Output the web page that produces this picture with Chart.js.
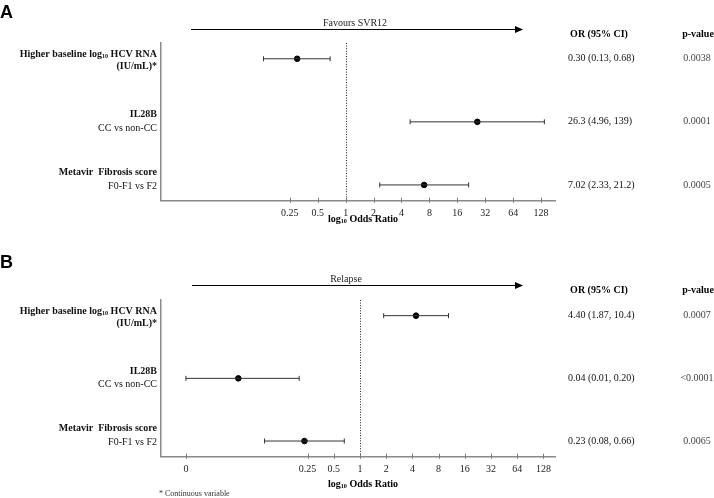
<!DOCTYPE html>
<html>
<head>
<meta charset="utf-8">
<script src="https://cdn.jsdelivr.net/npm/chart.js@4.4.0/dist/chart.umd.min.js"></script>
<style>
  body { margin: 0; background: #fff; }
  canvas { position: absolute; left: 0; }
  #chartA { top: 0; }
  #chartB { top: 249px; }
</style>
</head>
<body>
<canvas id="chartA" width="714" height="249"></canvas>
<canvas id="chartB" width="714" height="249"></canvas>
<script>
// row labels (shared by both panels)
const rowTitles = ["Higher baseline log10 HCV RNA", "IL28B", "Metavir  Fibrosis score"];
const rowSubtitles = ["(IU/mL)*", "CC vs non-CC", "F0-F1 vs F2"];
const rowSubBold = [true, false, false];

// panel A: favours SVR12
const svrOR = [0.30, 26.3, 7.02];
const svrLow = [0.13, 4.96, 2.33];
const svrHigh = [0.68, 139, 21.2];
const svrText = ["0.30 (0.13, 0.68)", "26.3 (4.96, 139)", "7.02 (2.33, 21.2)"];
const svrP = ["0.0038", "0.0001", "0.0005"];
const svrTicks = [0.25, 0.5, 1, 2, 4, 8, 16, 32, 64, 128];

// panel B: relapse
const relOR = [4.40, 0.04, 0.23];
const relLow = [1.87, 0.01, 0.08];
const relHigh = [10.4, 0.20, 0.66];
const relText = ["4.40 (1.87, 10.4)", "0.04 (0.01, 0.20)", "0.23 (0.08, 0.66)"];
const relP = ["0.0007", "<0.0001", "0.0065"];
const relTicks = [0.01, 0.25, 0.5, 1, 2, 4, 8, 16, 32, 64, 128];

const serif = "'Liberation Serif', 'Times New Roman', serif";
const sans = "'Liberation Sans', Arial, sans-serif";

// draws text where "log10" gets a subscript 10
function drawRich(ctx, text, x, y, size, bold, align) {
  const weight = bold ? "bold " : "";
  const parts = [];
  text.split("log10").forEach((s, i, arr) => {
    parts.push({ t: i < arr.length - 1 ? s + "log" : s, sub: false });
    if (i < arr.length - 1) parts.push({ t: "10", sub: true });
  });
  const fontOf = (p) => weight + (p.sub ? size * 0.62 : size) + "px " + serif;
  let total = 0;
  parts.forEach((p) => { ctx.font = fontOf(p); p.w = ctx.measureText(p.t).width; total += p.w; });
  let cx = align === "right" ? x - total : align === "center" ? x - total / 2 : x;
  ctx.textAlign = "left";
  parts.forEach((p) => {
    ctx.font = fontOf(p);
    ctx.fillText(p.t, cx, p.sub ? y + size * 0.25 : y);
    cx += p.w;
  });
}

const forestDecor = {
  id: "forestDecor",
  beforeDatasetsDraw(chart) {
    const { ctx, chartArea, scales } = chart;
    const x1 = Math.round(scales.x.getPixelForValue(1)) + 0.5;
    ctx.save();
    ctx.strokeStyle = "#222";
    ctx.lineWidth = 1;
    ctx.setLineDash([1, 1.6]);
    ctx.beginPath();
    ctx.moveTo(x1, chartArea.top);
    ctx.lineTo(x1, chartArea.bottom);
    ctx.stroke();
    ctx.setLineDash([]);
    // tick marks crossing the x axis
    ctx.strokeStyle = "#777";
    scales.x.ticks.forEach((t) => {
      const px = Math.round(scales.x.getPixelForValue(t.value)) + 0.5;
      ctx.beginPath();
      ctx.moveTo(px, chartArea.bottom - 3);
      ctx.lineTo(px, chartArea.bottom + 2);
      ctx.stroke();
    });
    ctx.restore();
  },
  afterDraw(chart, args, o) {
    const { ctx, scales } = chart;
    const y = scales.y;
    ctx.save();
    ctx.fillStyle = "#000";
    ctx.textBaseline = "alphabetic";
    ctx.font = "bold 18px " + sans;
    ctx.textAlign = "left";
    ctx.fillText(o.letter, 0, o.letterY);

    ctx.textBaseline = "middle";
    // arrow
    ctx.strokeStyle = "#000";
    ctx.lineWidth = 1;
    ctx.beginPath();
    ctx.moveTo(o.arrowX0, o.arrowY + 0.5);
    ctx.lineTo(o.arrowX1 - 6, o.arrowY + 0.5);
    ctx.stroke();
    ctx.beginPath();
    ctx.moveTo(o.arrowX1, o.arrowY + 0.5);
    ctx.lineTo(o.arrowX1 - 8, o.arrowY - 3);
    ctx.lineTo(o.arrowX1 - 8, o.arrowY + 4);
    ctx.closePath();
    ctx.fill();
    ctx.font = "10px " + serif;
    ctx.textAlign = "center";
    ctx.fillStyle = "#222";
    ctx.fillText(o.arrowText, o.arrowTextX, o.arrowTextY);

    // column headers
    ctx.fillStyle = "#000";
    ctx.font = "bold 10px " + serif;
    ctx.fillText("OR (95% CI)", 599, o.headerY);
    ctx.fillText("p-value", 698, o.headerY);

    const dy1 = [-4.7, -7.3, -12.3];
    const dy2 = [8, 6.2, 1];
    for (let i = 0; i < rowTitles.length; i++) {
      const py = y.getPixelForValue(i + 1);
      ctx.fillStyle = "#111";
      drawRich(ctx, rowTitles[i], 157, py + dy1[i], 10, true, "right");
      drawRich(ctx, rowSubtitles[i], 157, py + dy2[i], 10, rowSubBold[i], "right");
      ctx.font = "10px " + serif;
      ctx.textAlign = "left";
      ctx.fillStyle = "#111";
      ctx.fillText(o.orText[i], 568, py);
      ctx.textAlign = "center";
      ctx.fillStyle = "#444";
      ctx.fillText(o.pText[i], 697, py);
    }

    ctx.fillStyle = "#000";
    drawRich(ctx, "log10 Odds Ratio", 363, o.titleY, 10, true, "center");

    if (o.footnote) {
      ctx.font = "8px " + serif;
      ctx.textAlign = "left";
      ctx.fillStyle = "#333";
      ctx.fillText(o.footnote, 159, 245);
    }
    ctx.restore();
  },
};

function makeForest(id, or, low, high, ticks, xMin, xMax, padTop, padBottom, decor) {
  const datasets = or.map((v, i) => ({
    data: [{ x: low[i], y: i + 1 }, { x: high[i], y: i + 1 }],
    showLine: true,
    borderColor: "#333",
    borderWidth: 1,
    pointStyle: "line",
    rotation: 90,
    pointRadius: 2.5,
    pointBorderColor: "#333",
    pointBorderWidth: 1,
  }));
  datasets.push({
    data: or.map((v, i) => ({ x: v, y: i + 1 })),
    pointRadius: 2.8,
    pointBackgroundColor: "#000",
    pointBorderColor: "#000",
  });
  return new Chart(document.getElementById(id), {
    type: "scatter",
    data: { datasets },
    plugins: [forestDecor],
    options: {
      responsive: false,
      animation: false,
      events: [],
      layout: { padding: { left: 161, right: 159, top: padTop, bottom: padBottom } },
      scales: {
        x: {
          type: "logarithmic",
          min: xMin,
          max: xMax,
          bounds: "data",
          afterBuildTicks: (s) => { s.ticks = ticks.map((v) => ({ value: v })); },
          afterFit: (s) => { s.height = 20; },
          ticks: {
            autoSkip: false,
            maxRotation: 0,
            padding: 4,
            color: "#222",
            font: { family: serif, size: 10 },
            callback: (v) => (v < 0.02 ? "0" : String(v)),
          },
          grid: { display: true, drawOnChartArea: false, drawTicks: true, tickLength: 3, color: "rgba(0,0,0,0)" },
          border: { display: true, color: "#8a8a8a", width: 1.5 },
        },
        y: {
          type: "linear",
          min: 0.75,
          max: 3.25,
          reverse: true,
          ticks: { display: false },
          grid: { display: false },
          border: { display: true, color: "#8a8a8a", width: 1.5 },
          afterFit: (s) => { s.width = 0; },
        },
      },
      plugins: {
        legend: { display: false },
        tooltip: { enabled: false },
        forestDecor: decor,
      },
    },
  });
}

makeForest("chartA", svrOR, svrLow, svrHigh, svrTicks, 0.0102, 181, 43, 28.3, {
  letter: "A", letterY: 18,
  arrowText: "Favours SVR12", arrowTextX: 355, arrowTextY: 23,
  arrowX0: 191, arrowX1: 523, arrowY: 29,
  headerY: 34, orText: svrText, pText: svrP, titleY: 219,
});

makeForest("chartB", relOR, relLow, relHigh, relTicks, 0.00517, 174, 51, 21.3, {
  letter: "B", letterY: 19,
  arrowText: "Relapse", arrowTextX: 346, arrowTextY: 30,
  arrowX0: 192, arrowX1: 523, arrowY: 36,
  headerY: 41, orText: relText, pText: relP, titleY: 235,
  footnote: "* Continuous variable",
});
</script>
</body>
</html>
